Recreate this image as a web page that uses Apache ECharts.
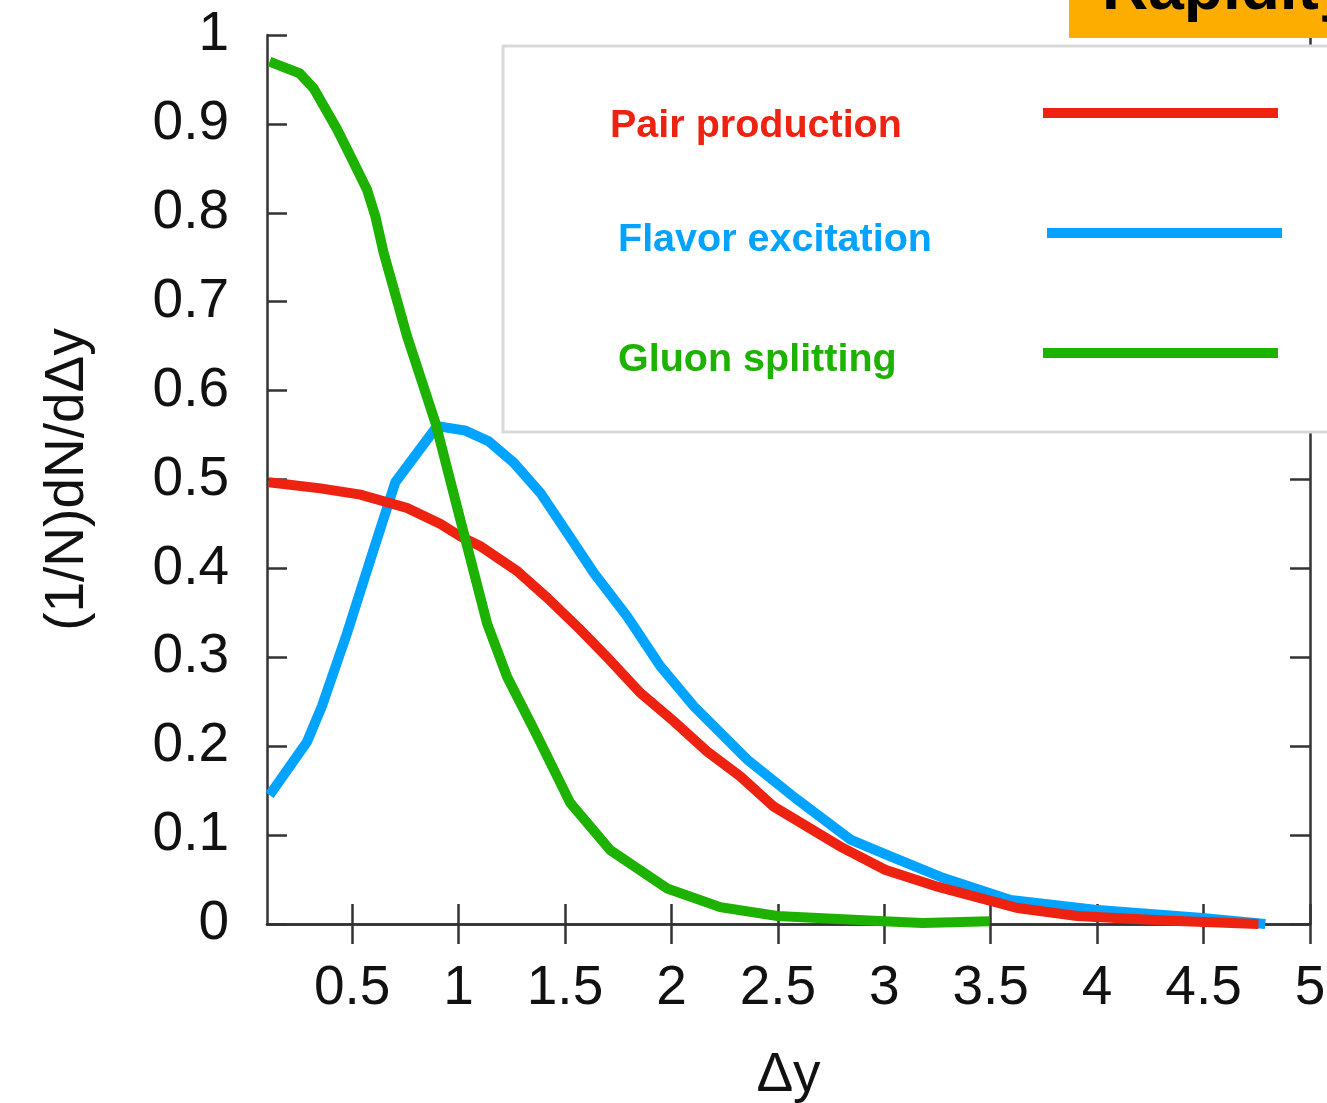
<!DOCTYPE html>
<html>
<head>
<meta charset="utf-8">
<script src="https://cdn.jsdelivr.net/npm/echarts@6/dist/echarts.min.js"></script>
<style>
  html, body { margin: 0; padding: 0; background: #fff; }
  #chart { width: 1327px; height: 1103px; }
</style>
</head>
<body>
<div id="chart"></div>
<script>
// Normalised Δy distributions for the three production mechanisms
const pairX = [0.108, 0.351, 0.539, 0.758, 0.915, 1.009, 1.102, 1.275, 1.416, 1.572, 1.698, 1.854, 2.011, 2.168, 2.324, 2.481, 2.794, 3.004, 3.25, 3.627, 3.906, 4.316, 4.758];
const pairY = [0.497, 0.490, 0.483, 0.468, 0.450, 0.436, 0.425, 0.397, 0.367, 0.331, 0.300, 0.260, 0.228, 0.194, 0.166, 0.132, 0.087, 0.061, 0.042, 0.018, 0.009, 0.004, 0.0];

const flavorX = [0.112, 0.288, 0.358, 0.476, 0.586, 0.703, 0.899, 1.032, 1.141, 1.259, 1.384, 1.510, 1.635, 1.792, 1.948, 2.105, 2.356, 2.591, 2.841, 3.029, 3.264, 3.593, 3.988, 4.48, 4.79];
const flavorY = [0.145, 0.205, 0.245, 0.327, 0.410, 0.497, 0.560, 0.555, 0.543, 0.519, 0.485, 0.440, 0.395, 0.346, 0.290, 0.245, 0.185, 0.140, 0.095, 0.076, 0.053, 0.027, 0.016, 0.007, 0.0];

const gluonX = [0.112, 0.253, 0.319, 0.429, 0.492, 0.570, 0.609, 0.648, 0.703, 0.758, 0.891, 1.024, 1.134, 1.228, 1.36, 1.525, 1.713, 1.980, 2.230, 2.497, 2.998, 3.18, 3.495];
const gluonY = [0.970, 0.957, 0.940, 0.894, 0.864, 0.826, 0.796, 0.755, 0.708, 0.661, 0.564, 0.440, 0.338, 0.278, 0.216, 0.136, 0.083, 0.040, 0.019, 0.009, 0.003, 0.001, 0.003];

const xTicks = [0.5, 1, 1.5, 2, 2.5, 3, 3.5, 4, 4.5, 5];
const seriesNames = ['Pair production', 'Flavor excitation', 'Gluon splitting'];
const colors = { pair: '#EE2211', flavor: '#00A3FF', gluon: '#1DB100' };

const zip = (xs, ys) => xs.map((x, i) => [x, ys[i]]);

const FONT = '"Liberation Sans", Arial, Helvetica, sans-serif';
const AXIS_COLOR = '#333';

const chart = echarts.init(document.getElementById('chart'), null, { renderer: 'canvas' });

const lineStyleOf = (c) => ({ color: c, width: 10, join: 'miter' });

const option = {
  backgroundColor: '#fff',
  animation: false,
  grid: { left: 267, right: 17, top: 35, bottom: 179, containLabel: false, outerBoundsMode: 'none' },
  xAxis: [
    {
      type: 'value', min: 0.1, max: 5, position: 'bottom',
      name: 'Δy', nameLocation: 'middle', nameGap: 124,
      nameTextStyle: { fontFamily: FONT, fontSize: 55, color: '#111' },
      axisLine: { show: true, lineStyle: { color: AXIS_COLOR, width: 2.5 } },
      axisTick: { show: true, inside: true, length: 20, customValues: xTicks, lineStyle: { color: AXIS_COLOR, width: 2.5 } },
      axisLabel: { show: true, customValues: xTicks, margin: 37, fontFamily: FONT, fontSize: 55, color: '#111' },
      splitLine: { show: false }
    },
    {
      type: 'value', min: 0.1, max: 5, position: 'top',
      axisLine: { show: true, lineStyle: { color: AXIS_COLOR, width: 2.5 } },
      axisTick: { show: true, inside: true, length: 20, customValues: xTicks, lineStyle: { color: AXIS_COLOR, width: 2.5 } },
      axisLabel: { show: false },
      splitLine: { show: false }
    }
  ],
  yAxis: [
    {
      type: 'value', min: 0, max: 1, interval: 0.1, position: 'left',
      name: '(1/N)dN/dΔy', nameLocation: 'middle', nameGap: 172, nameRotate: 90,
      nameTextStyle: { fontFamily: FONT, fontSize: 55, color: '#111' },
      axisLine: { show: true, lineStyle: { color: AXIS_COLOR, width: 2.5 } },
      axisTick: { show: true, inside: true, length: 20, lineStyle: { color: AXIS_COLOR, width: 2.5 } },
      axisLabel: { show: true, margin: 38, fontFamily: FONT, fontSize: 55, color: '#111' },
      splitLine: { show: false }
    },
    {
      type: 'value', min: 0, max: 1, interval: 0.1, position: 'right',
      axisLine: { show: true, lineStyle: { color: AXIS_COLOR, width: 2.5 } },
      axisTick: { show: true, inside: true, length: 20, lineStyle: { color: AXIS_COLOR, width: 2.5 } },
      axisLabel: { show: false },
      splitLine: { show: false }
    }
  ],
  series: [
    {
      name: seriesNames[1], type: 'line', data: zip(flavorX, flavorY),
      showSymbol: false, lineStyle: lineStyleOf(colors.flavor), itemStyle: { color: colors.flavor }, z: 3
    },
    {
      name: seriesNames[0], type: 'line', data: zip(pairX, pairY),
      showSymbol: false, lineStyle: lineStyleOf(colors.pair), itemStyle: { color: colors.pair }, z: 4
    },
    {
      name: seriesNames[2], type: 'line', data: zip(gluonX, gluonY),
      showSymbol: false, lineStyle: lineStyleOf(colors.gluon), itemStyle: { color: colors.gluon }, z: 5
    }
  ],
  graphic: [
    // key box
    {
      type: 'rect', z: 100,
      shape: { x: 503, y: 46, width: 900, height: 386 },
      style: { fill: '#fff', stroke: '#d9d9d9', lineWidth: 3 }
    },
    { type: 'text', z: 101, x: 610, y: 126.5,
      style: { text: seriesNames[0], fill: colors.pair, font: 'bold 39.5px ' + FONT, verticalAlign: 'middle', align: 'left' } },
    { type: 'line', z: 101, shape: { x1: 1043, y1: 113, x2: 1278, y2: 113 },
      style: { stroke: colors.pair, lineWidth: 10 } },
    { type: 'text', z: 101, x: 618, y: 240.5,
      style: { text: seriesNames[1], fill: colors.flavor, font: 'bold 39.5px ' + FONT, verticalAlign: 'middle', align: 'left' } },
    { type: 'line', z: 101, shape: { x1: 1047, y1: 233, x2: 1282, y2: 233 },
      style: { stroke: colors.flavor, lineWidth: 10 } },
    { type: 'text', z: 101, x: 618, y: 360.5,
      style: { text: seriesNames[2], fill: colors.gluon, font: 'bold 39.5px ' + FONT, verticalAlign: 'middle', align: 'left' } },
    { type: 'line', z: 101, shape: { x1: 1043, y1: 353, x2: 1278, y2: 353 },
      style: { stroke: colors.gluon, lineWidth: 10 } },
    // orange tag in the top-right corner
    {
      type: 'rect', z: 110,
      shape: { x: 1069, y: -5, width: 300, height: 43 },
      style: { fill: '#FDAD00' }
    },
    { type: 'text', z: 111, x: 1102, y: -9,
      style: { text: 'Rapidity', fill: '#000', font: 'bold 64px ' + FONT, verticalAlign: 'middle', align: 'left' } }
  ]
};

chart.setOption(option);
</script>
</body>
</html>
